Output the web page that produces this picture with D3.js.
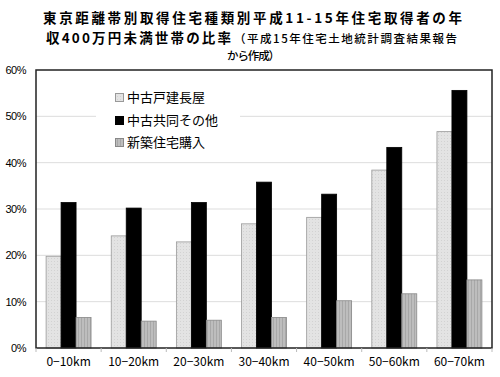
<!DOCTYPE html>
<html>
<head>
<meta charset="utf-8">
<script src="https://cdn.jsdelivr.net/npm/d3@7"></script>
<style>
  body { margin: 0; background: #fff; }
  svg { display: block; font-family: 'Noto Sans CJK JP', 'Liberation Sans', sans-serif; }
</style>
</head>
<body>
<div id="chart"></div>
<script>
// distance bands from Tokyo
const categories = ['0-10km', '10-20km', '20-30km', '30-40km', '40-50km', '50-60km', '60-70km'];
const seriesNames = ['中古戸建長屋', '中古共同その他', '新築住宅購入'];
// share of households under 4M yen income (%)
const usedDetached = [19.8, 24.2, 22.9, 26.8, 28.2, 38.4, 46.7];
const usedCondo = [31.4, 30.2, 31.4, 35.8, 33.2, 43.3, 55.6];
const newPurchase = [6.6, 5.8, 6.0, 6.6, 10.2, 11.7, 14.7];
const yTicks = [0, 10, 20, 30, 40, 50, 60];

const seriesValues = [usedDetached, usedCondo, newPurchase];
const fills = ['url(#dots)', '#000', 'url(#stripes)'];
const strokes = ['#999', '#000', '#888'];

const width = 500, height = 377;
const margin = { top: 70, right: 8, bottom: 29, left: 36 };

const svg = d3.select('#chart').append('svg')
  .attr('width', width)
  .attr('height', height)
  .attr('viewBox', [0, 0, width, height]);

const defs = svg.append('defs');
const dots = defs.append('pattern').attr('id', 'dots')
  .attr('width', 3).attr('height', 3).attr('patternUnits', 'userSpaceOnUse');
dots.append('rect').attr('width', 3).attr('height', 3).attr('fill', '#e3e3e3');
dots.append('rect').attr('width', 1).attr('height', 1).attr('fill', '#d2d2d2');
const stripes = defs.append('pattern').attr('id', 'stripes')
  .attr('width', 3).attr('height', 3).attr('patternUnits', 'userSpaceOnUse');
stripes.append('rect').attr('width', 3).attr('height', 3).attr('fill', '#bdbdbd');
stripes.append('rect').attr('width', 1).attr('height', 3).attr('fill', '#a8a8a8');

const x = d3.scaleBand()
  .domain(categories)
  .range([margin.left, width - margin.right])
  .paddingInner(0.31)
  .paddingOuter(0.155);

const xs = d3.scaleBand()
  .domain(d3.range(seriesNames.length))
  .range([0, x.bandwidth()]);

const y = d3.scaleLinear()
  .domain([0, 60])
  .range([height - margin.bottom, margin.top]);

// gridlines
svg.append('g')
  .selectAll('line')
  .data(yTicks.slice(1, -1))
  .join('line')
  .attr('x1', margin.left).attr('x2', width - margin.right)
  .attr('y1', d => y(d)).attr('y2', d => y(d))
  .attr('stroke', '#ddd');

// bars
seriesValues.forEach((vals, i) => {
  svg.append('g')
    .selectAll('rect')
    .data(vals)
    .join('rect')
    .attr('x', (d, j) => x(categories[j]) + xs(i))
    .attr('y', d => y(d))
    .attr('width', xs.bandwidth())
    .attr('height', d => y(0) - y(d))
    .attr('fill', fills[i])
    .attr('stroke', strokes[i])
    .attr('stroke-width', 0.8);
});

// frame
svg.append('rect')
  .attr('x', margin.left).attr('y', margin.top)
  .attr('width', width - margin.right - margin.left)
  .attr('height', y(0) - margin.top)
  .attr('fill', 'none')
  .attr('stroke', '#222')
  .attr('stroke-width', 1.5);

// y axis labels
svg.append('g')
  .selectAll('text')
  .data(yTicks)
  .join('text')
  .attr('x', 26)
  .attr('y', d => y(d))
  .attr('dy', '0.35em')
  .attr('text-anchor', 'end')
  .attr('font-size', 11)
  .attr('font-family', 'Liberation Sans, sans-serif')
  .attr('letter-spacing', -0.5)
  .text(d => d + '%');

// x axis
const xAxis = svg.append('g')
  .attr('transform', `translate(0,${y(0)})`);
xAxis.selectAll('line')
  .data(d3.range(categories.length + 1))
  .join('line')
  .attr('x1', i => margin.left + i * (width - margin.right - margin.left) / categories.length)
  .attr('x2', i => margin.left + i * (width - margin.right - margin.left) / categories.length)
  .attr('y1', 0).attr('y2', 4)
  .attr('stroke', '#bbb');
xAxis.selectAll('text')
  .data(categories)
  .join('text')
  .attr('x', d => x(d) + x.bandwidth() / 2)
  .attr('y', 18)
  .attr('text-anchor', 'middle')
  .attr('font-size', 12)
  .text(d => d.replace('-', '−'));

// legend
const legend = svg.append('g');
legend.append('rect')
  .attr('x', 96).attr('y', 84).attr('width', 144).attr('height', 68)
  .attr('fill', '#fff');
const legendY = [97, 120, 142];
seriesNames.forEach((name, i) => {
  legend.append('rect')
    .attr('x', 115.5).attr('y', legendY[i] - 3.5)
    .attr('width', 8).attr('height', 8)
    .attr('fill', fills[i])
    .attr('stroke', strokes[i]);
  legend.append('text')
    .attr('x', 127).attr('y', legendY[i])
    .attr('dy', '0.35em')
    .attr('font-size', 13)
    .text(name);
});

// title
const title = svg.append('g');
title.append('text')
  .attr('x', 43).attr('y', 23)
  .attr('font-size', 13.5).attr('font-weight', 'bold')
  .attr('textLength', 419).attr('lengthAdjust', 'spacing')
  .text('東京距離帯別取得住宅種類別平成11-15年住宅取得者の年');
const t2 = title.append('text')
  .attr('x', 46).attr('y', 42.5);
t2.append('tspan').attr('font-size', 13.5).attr('font-weight', 'bold')
  .attr('textLength', 185).attr('lengthAdjust', 'spacing')
  .text('収400万円未満世帯の比率');
t2.append('tspan').attr('x', 234).attr('font-size', 11.5).attr('font-weight', 500)
  .attr('textLength', 223).attr('lengthAdjust', 'spacing')
  .text('（平成15年住宅土地統計調査結果報告');
title.append('text')
  .attr('x', 227).attr('y', 59.5)
  .attr('font-size', 11.5).attr('font-weight', 500)
  .attr('textLength', 53).attr('lengthAdjust', 'spacing')
  .text('から作成）');
</script>
</body>
</html>
